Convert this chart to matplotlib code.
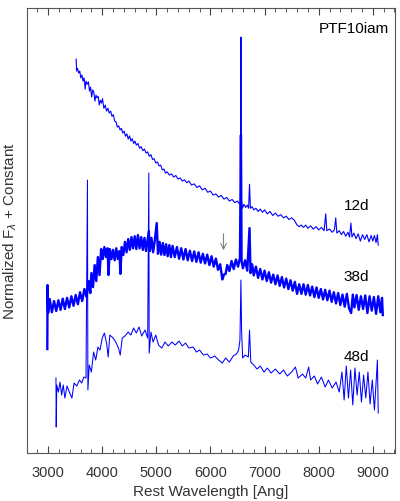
import matplotlib
matplotlib.use('Agg')
import matplotlib.pyplot as plt
from matplotlib.ticker import MultipleLocator

plt.rcParams['font.family'] = ['Liberation Sans', 'DejaVu Sans']

# spectra: rest wavelength [Ang], normalized flux + constant
wave_12d = [3519, 3525, 3545, 3565, 3585, 3605, 3625, 3645, 3665, 3685, 3700, 3720,
            3745, 3765, 3785, 3805, 3825, 3845, 3865, 3885, 3905, 3925, 3945, 3965,
            3985, 4005, 4030, 4055, 4080, 4105, 4130, 4155, 4180, 4205, 4230, 4255,
            4280, 4305, 4330, 4355, 4380, 4405, 4430, 4455, 4480, 4505, 4530, 4555,
            4580, 4605, 4630, 4660, 4690, 4720, 4750, 4780, 4810, 4840, 4870, 4900,
            4930, 4960, 4990, 5020, 5050, 5080, 5110, 5140, 5170, 5200, 5240, 5280,
            5320, 5360, 5400, 5440, 5480, 5520, 5560, 5600, 5650, 5700, 5750, 5800,
            5850, 5900, 5950, 6000, 6050, 6100, 6150, 6200, 6250, 6300, 6350, 6400,
            6450, 6500, 6540, 6556, 6563, 6570, 6590, 6620, 6650, 6680, 6705, 6722,
            6738, 6770, 6800, 6840, 6880, 6920, 6960, 7000, 7050, 7100, 7150, 7200,
            7250, 7300, 7350, 7400, 7450, 7500, 7550, 7600, 7640, 7680, 7720, 7760,
            7800, 7850, 7900, 7950, 8000, 8050, 8100, 8130, 8150, 8200, 8250, 8290,
            8315, 8335, 8380, 8420, 8460, 8500, 8540, 8570, 8595, 8615, 8650, 8690,
            8730, 8770, 8810, 8850, 8890, 8930, 8970, 9000, 9030, 9060, 9085, 9100]
flux_12d = [9.85, 9.55, 9.62, 9.50, 9.55, 9.38, 9.45, 9.30, 9.38, 9.10, 9.30, 9.22,
            9.28, 9.05, 9.15, 8.90, 9.08, 9.02, 8.80, 8.95, 8.88, 8.92, 8.70, 8.82,
            8.75, 8.86, 8.62, 8.70, 8.55, 8.62, 8.50, 8.55, 8.42, 8.46, 8.30, 8.28,
            8.15, 8.18, 8.08, 8.12, 8.00, 8.05, 7.92, 7.98, 7.85, 7.93, 7.80, 7.86,
            7.74, 7.80, 7.70, 7.74, 7.62, 7.66, 7.56, 7.60, 7.50, 7.53, 7.42, 7.46,
            7.34, 7.36, 7.25, 7.28, 7.18, 7.20, 7.08, 7.10, 7.00, 7.03, 6.95, 6.98,
            6.90, 6.94, 6.85, 6.88, 6.80, 6.83, 6.76, 6.80, 6.70, 6.73, 6.64, 6.68,
            6.58, 6.62, 6.52, 6.55, 6.45, 6.48, 6.40, 6.44, 6.35, 6.39, 6.30, 6.34,
            6.26, 6.30, 6.22, 6.28, 10.40, 6.35, 6.12, 6.22, 6.14, 6.20, 6.12, 6.72,
            6.12, 6.16, 6.08, 6.12, 6.04, 6.10, 6.02, 6.08, 5.98, 6.04, 5.94, 6.00,
            5.92, 5.96, 5.88, 5.92, 5.84, 5.88, 5.82, 5.70, 5.66, 5.70, 5.64, 5.70,
            5.62, 5.68, 5.60, 5.66, 5.58, 5.64, 5.56, 5.98, 5.56, 5.60, 5.52, 5.58,
            5.88, 5.50, 5.56, 5.46, 5.54, 5.42, 5.52, 5.40, 5.75, 5.40, 5.50, 5.36,
            5.48, 5.30, 5.46, 5.34, 5.46, 5.28, 5.44, 5.30, 5.44, 5.26, 5.46, 5.20]

wave_38d = [2985, 2990, 3000, 3030, 3070, 3110, 3150, 3190, 3230, 3270, 3310, 3350,
            3390, 3430, 3470, 3510, 3550, 3590, 3630, 3670, 3710, 3750, 3780, 3800,
            3830, 3860, 3890, 3920, 3950, 3980, 4010, 4040, 4070, 4100, 4115, 4140,
            4170, 4200, 4230, 4260, 4290, 4320, 4335, 4360, 4390, 4420, 4450, 4480,
            4510, 4540, 4570, 4600, 4630, 4660, 4690, 4720, 4750, 4780, 4810, 4840,
            4861, 4880, 4910, 4940, 4970, 5007, 5030, 5060, 5090, 5120, 5150, 5180,
            5210, 5240, 5270, 5300, 5340, 5380, 5420, 5460, 5500, 5540, 5580, 5620,
            5660, 5700, 5740, 5780, 5820, 5860, 5900, 5940, 5980, 6020, 6060, 6100,
            6140, 6180, 6220, 6250, 6280, 6310, 6350, 6390, 6430, 6470, 6510, 6545,
            6563, 6575, 6600, 6640, 6680, 6722, 6740, 6770, 6800, 6840, 6880, 6920,
            6960, 7000, 7040, 7080, 7120, 7160, 7200, 7240, 7280, 7320, 7360, 7400,
            7440, 7480, 7520, 7560, 7600, 7640, 7680, 7720, 7760, 7800, 7840, 7880,
            7920, 7960, 8000, 8040, 8080, 8120, 8160, 8200, 8240, 8280, 8320, 8360,
            8400, 8440, 8480, 8520, 8560, 8600, 8630, 8660, 8700, 8740, 8780, 8820,
            8860, 8900, 8940, 8980, 9020, 9060, 9100, 9140, 9170, 9185]
flux_38d = [2.60, 4.20, 3.50, 3.85, 3.52, 3.80, 3.55, 3.82, 3.58, 3.86, 3.60, 3.88,
            3.64, 3.92, 3.68, 3.95, 3.72, 4.02, 3.80, 4.10, 3.90, 4.30, 4.00, 4.50,
            4.15, 4.70, 4.30, 4.90, 4.45, 5.10, 4.85, 5.15, 4.90, 5.12, 4.45, 5.10,
            4.85, 5.08, 4.82, 5.12, 4.85, 5.05, 4.48, 5.15, 4.95, 5.28, 5.02, 5.35,
            5.08, 5.40, 5.12, 5.42, 5.10, 5.45, 5.12, 5.40, 5.08, 5.38, 5.05, 5.35,
            5.55, 5.05, 5.38, 5.02, 5.30, 5.75, 4.98, 5.28, 4.96, 5.25, 4.95, 5.22,
            4.92, 5.20, 4.90, 5.18, 4.90, 5.15, 4.86, 5.12, 4.84, 5.10, 4.82, 5.06,
            4.80, 5.04, 4.78, 5.02, 4.76, 4.98, 4.74, 4.96, 4.70, 4.92, 4.66, 4.86,
            4.58, 4.72, 4.34, 4.46, 4.48, 4.70, 4.55, 4.80, 4.60, 4.84, 4.66, 4.88,
            7.95, 4.80, 4.62, 4.82, 4.56, 5.625, 4.50, 4.72, 4.44, 4.66, 4.38, 4.60,
            4.34, 4.56, 4.30, 4.52, 4.26, 4.46, 4.22, 4.44, 4.18, 4.40, 4.14, 4.36,
            4.10, 4.32, 4.06, 4.28, 3.98, 4.22, 3.98, 4.22, 3.96, 4.20, 3.94, 4.16,
            3.90, 4.14, 3.88, 4.10, 3.84, 4.08, 3.82, 4.06, 3.78, 4.02, 3.74, 4.00,
            3.70, 3.96, 3.66, 3.98, 3.62, 3.50, 3.96, 3.64, 3.95, 3.58, 3.92, 3.60,
            3.94, 3.50, 3.92, 3.56, 3.90, 3.48, 3.92, 3.52, 3.88, 3.45]

wave_48d = [3145, 3150, 3160, 3190, 3220, 3250, 3280, 3310, 3350, 3400, 3440, 3480,
            3530, 3580, 3620, 3660, 3700, 3727, 3735, 3760, 3800, 3840, 3880, 3920,
            3960, 4000, 4040, 4080, 4110, 4140, 4200, 4250, 4300, 4333, 4370, 4420,
            4480, 4530, 4580, 4630, 4680, 4730, 4790, 4840, 4861, 4868, 4900, 4940,
            4990, 5040, 5100, 5160, 5220, 5290, 5350, 5420, 5480, 5540, 5600, 5680,
            5740, 5800, 5870, 5940, 6000, 6080, 6150, 6220, 6280, 6350, 6420, 6480,
            6520, 6545, 6563, 6575, 6595, 6640, 6700, 6722, 6745, 6800, 6860, 6920,
            6990, 7050, 7120, 7200, 7280, 7350, 7420, 7500, 7570, 7620, 7700, 7760,
            7815, 7850, 7920, 7980, 8050, 8120, 8180, 8250, 8320, 8380, 8430, 8470,
            8510, 8550, 8590, 8630, 8670, 8710, 8750, 8790, 8830, 8870, 8910, 8950,
            8990, 9030, 9060, 9085, 9100]
flux_48d = [1.875, 0.65, 1.70, 1.525, 1.775, 1.45, 1.70, 1.375, 1.675, 1.50, 1.375, 1.75,
            1.675, 1.825, 1.75, 1.90, 1.875, 6.825, 1.575, 2.20, 2.025, 2.525, 2.325, 2.65,
            2.575, 2.875, 3.00, 2.75, 2.40, 2.95, 2.875, 2.775, 2.625, 2.45, 2.875, 2.925,
            3.025, 2.95, 3.125, 3.00, 3.15, 2.925, 3.075, 2.875, 7.00, 2.50, 3.025, 2.775,
            2.95, 2.70, 2.625, 2.775, 2.675, 2.775, 2.70, 2.80, 2.675, 2.75, 2.625, 2.65,
            2.525, 2.575, 2.45, 2.475, 2.375, 2.425, 2.325, 2.25, 2.375, 2.275, 2.425, 2.475,
            2.575, 2.825, 4.325, 3.075, 2.375, 2.45, 2.40, 3.075, 2.275, 2.20, 2.10, 2.175,
            2.025, 2.125, 2.00, 2.10, 1.975, 2.075, 1.925, 2.025, 2.15, 1.875, 1.975, 1.875,
            2.15, 1.825, 1.925, 1.725, 1.90, 1.65, 1.825, 1.625, 1.775, 1.525, 2.025, 1.325,
            2.175, 1.375, 2.075, 1.20, 2.125, 1.45, 2.025, 1.275, 1.95, 1.375, 2.025, 1.225,
            1.825, 1.075, 1.75, 2.325, 1.00]

epochs = ['12d', '38d', '48d']
label_y = [6.175, 4.4, 2.4]
arrow_wave = 6241

fig = plt.figure(figsize=(4, 5.01), dpi=100)
ax = fig.add_axes([0.0675, 0.0958, 0.92, 0.888])

ax.plot(wave_12d, flux_12d, color='blue', lw=0.8)
ax.plot(wave_38d, flux_38d, color='blue', lw=1.7)
ax.plot(wave_48d, flux_48d, color='blue', lw=0.75)

for lab, yy in zip(epochs, label_y):
    ax.text(8700, yy, lab, fontsize=11, ha='center', va='center', color='black')
ax.text(9300, 10.6, 'PTF10iam', fontsize=11, ha='right', va='center', color='black')

ax.annotate('', xy=(arrow_wave, 5.0), xytext=(arrow_wave, 5.55),
            arrowprops=dict(arrowstyle='->', color='gray', lw=0.8))

ax.set_xlim(2610, 9410)
ax.set_ylim(0, 11.125)
ax.xaxis.set_major_locator(MultipleLocator(1000))
ax.xaxis.set_minor_locator(MultipleLocator(200))
ax.tick_params(axis='x', which='both', direction='in', top=True, colors='#444444',
               labelcolor='#333333', labelsize=10.5, pad=9)
ax.tick_params(axis='x', which='major', length=5)
ax.tick_params(axis='x', which='minor', length=3)
ax.set_yticks([])
for sp in ax.spines.values():
    sp.set_color('#555555')

ax.set_xlabel('Rest Wavelength [Ang]', fontsize=11, color='#333333', labelpad=4)
ax.set_ylabel(r'Normalized F$_\lambda$ + Constant', fontsize=11, color='#333333', labelpad=6)

fig.savefig('out.png', dpi=100)
